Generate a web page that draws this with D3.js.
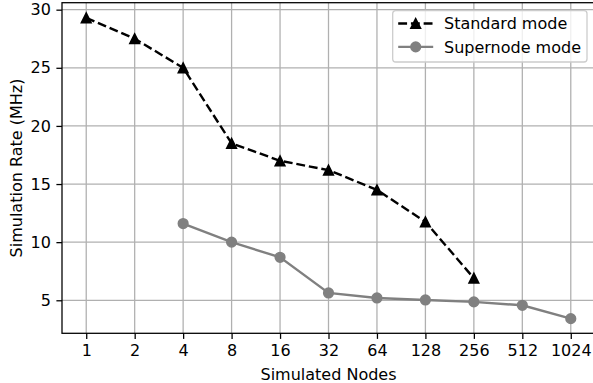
<!DOCTYPE html>
<html>
<head>
<meta charset="utf-8">
<script src="https://cdn.jsdelivr.net/npm/d3@7"></script>
<style>
  body { margin: 0; background: #fff; }
  svg { display: block; font-family: "DejaVu Sans", sans-serif; }
</style>
</head>
<body>
<div id="chart"></div>
<script>
// 数据
const nodes = ['1', '2', '4', '8', '16', '32', '64', '128', '256', '512', '1024'];
const standardRate = [29.3, 27.5, 25.0, 18.5, 17.0, 16.2, 14.5, 11.75, 6.9, null, null];
const supernodeRate = [null, null, 11.6, 10.0, 8.7, 5.63, 5.2, 5.03, 4.86, 4.57, 3.42];
const yTicks = [5, 10, 15, 20, 25, 30];

const width = 593, height = 383;
const margin = { left: 62, right: -2, top: 2.7, bottom: 49.7 }; // 右边框在画面外

const svg = d3.select('#chart').append('svg')
  .attr('width', width)
  .attr('height', height);

const x = d3.scaleLinear()
  .domain([-0.5, nodes.length - 0.5])
  .range([margin.left, width - margin.right]);
const y = d3.scaleLinear()
  .domain([2.16, 30.6])
  .range([height - margin.bottom, margin.top]);

const pt = 1.6;           // 1pt 对应的像素
const fontSize = 10 * pt;
const lw = 1.5 * pt;
const ms = 3 * pt;        // marker 半径
const mew = 1 * pt;       // marker 边线宽
const tick = 3.5 * pt;

// 网格线
const grid = svg.append('g').attr('class', 'grid')
  .attr('stroke', '#b0b0b0')
  .attr('stroke-width', 0.8 * pt);
grid.selectAll('line.vx').data(nodes)
  .join('line')
  .attr('x1', (_, i) => x(i)).attr('x2', (_, i) => x(i))
  .attr('y1', y.range()[0]).attr('y2', y.range()[1]);
grid.selectAll('line.hy').data(yTicks)
  .join('line')
  .attr('y1', d => y(d)).attr('y2', d => y(d))
  .attr('x1', x.range()[0]).attr('x2', x.range()[1]);

// 坐标轴
const xAxis = d3.axisBottom(x)
  .tickValues(d3.range(nodes.length))
  .tickFormat(i => nodes[i])
  .tickSize(tick)
  .tickPadding(tick);
const yAxis = d3.axisLeft(y)
  .tickValues(yTicks)
  .tickSize(tick)
  .tickPadding(tick);

const gx = svg.append('g')
  .attr('transform', `translate(0,${y.range()[0]})`)
  .call(xAxis);
const gy = svg.append('g')
  .attr('transform', `translate(${x.range()[0]},0)`)
  .call(yAxis);

[gx, gy].forEach(g => {
  g.select('.domain').remove();
  g.selectAll('.tick line').attr('stroke', '#000').attr('stroke-width', 0.8 * pt);
  g.selectAll('.tick text')
    .attr('fill', '#000')
    .style('font-size', `${fontSize}px`)
    .style('font-family', '"DejaVu Sans", sans-serif');
});

// 边框
svg.append('rect')
  .attr('x', x.range()[0]).attr('y', y.range()[1])
  .attr('width', x.range()[1] - x.range()[0])
  .attr('height', y.range()[0] - y.range()[1])
  .attr('fill', 'none')
  .attr('stroke', '#000')
  .attr('stroke-width', 0.8 * pt);

// 折线
const line = d3.line()
  .defined(d => d != null)
  .x((_, i) => x(i))
  .y(d => y(d));

const triangle = r => `M0,${-r}L${-r},${r}L${r},${r}Z`;
const dash = `${3.7 * lw},${1.6 * lw}`;

svg.append('path')
  .datum(supernodeRate)
  .attr('fill', 'none')
  .attr('stroke', 'gray')
  .attr('stroke-width', lw)
  .attr('d', line);
svg.append('g').selectAll('circle')
  .data(supernodeRate.map((v, i) => [i, v]).filter(d => d[1] != null))
  .join('circle')
  .attr('cx', d => x(d[0]))
  .attr('cy', d => y(d[1]))
  .attr('r', ms)
  .attr('fill', 'gray')
  .attr('stroke', 'gray')
  .attr('stroke-width', mew);

svg.append('path')
  .datum(standardRate)
  .attr('fill', 'none')
  .attr('stroke', '#000')
  .attr('stroke-width', lw)
  .attr('stroke-dasharray', dash)
  .attr('d', line);
svg.append('g').selectAll('path')
  .data(standardRate.map((v, i) => [i, v]).filter(d => d[1] != null))
  .join('path')
  .attr('transform', d => `translate(${x(d[0])},${y(d[1])})`)
  .attr('d', triangle(ms))
  .attr('fill', '#000')
  .attr('stroke', '#000')
  .attr('stroke-width', mew)
  .attr('stroke-linejoin', 'miter');

// 轴标题
svg.append('text')
  .attr('x', (x.range()[0] + x.range()[1]) / 2)
  .attr('y', 380)
  .attr('text-anchor', 'middle')
  .style('font-size', `${fontSize}px`)
  .text('Simulated Nodes');
svg.append('text')
  .attr('transform', `translate(22,${(y.range()[0] + y.range()[1]) / 2}) rotate(-90)`)
  .attr('text-anchor', 'middle')
  .style('font-size', `${fontSize}px`)
  .text('Simulation Rate (MHz)');

// 图例
const legend = svg.append('g').attr('transform', 'translate(392.7,10.7)');
legend.append('rect')
  .attr('width', 194.3).attr('height', 51.3)
  .attr('rx', 3)
  .attr('fill', '#fff').attr('fill-opacity', 0.8)
  .attr('stroke', '#cccccc').attr('stroke-width', 0.8 * pt);

const items = [
  { label: 'Standard mode', color: '#000', dash: true, marker: 'tri' },
  { label: 'Supernode mode', color: 'gray', dash: false, marker: 'circle' }
];
items.forEach((it, i) => {
  const row = legend.append('g').attr('transform', `translate(0,${12.8 + i * 23.4})`);
  row.append('line')
    .attr('x1', 5.5).attr('x2', 40.5)
    .attr('stroke', it.color)
    .attr('stroke-width', lw)
    .attr('stroke-dasharray', it.dash ? dash : null);
  if (it.marker === 'tri') {
    row.append('path')
      .attr('transform', 'translate(23,0)')
      .attr('d', triangle(ms)).attr('fill', it.color)
      .attr('stroke', it.color).attr('stroke-width', mew);
  } else {
    row.append('circle').attr('cx', 23).attr('r', ms).attr('fill', it.color)
      .attr('stroke', it.color).attr('stroke-width', mew);
  }
  row.append('text')
    .attr('x', 51.3)
    .attr('dy', '0.35em')
    .style('font-size', `${fontSize}px`)
    .text(it.label);
});
</script>
</body>
</html>
